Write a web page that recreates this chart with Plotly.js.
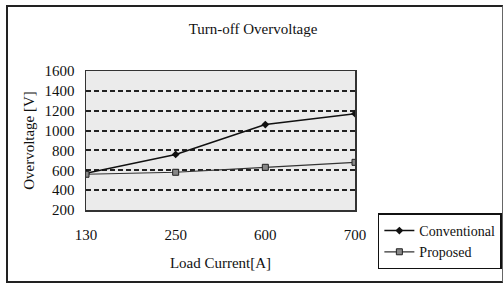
<!DOCTYPE html>
<html><head><meta charset="utf-8">
<script src="https://cdn.plot.ly/plotly-3.0.1.min.js"></script>
<style>
html,body{margin:0;padding:0;background:#fff;}
#frame{position:absolute;left:6px;top:5px;width:497px;height:278px;border:2px solid #222;border-right:1px solid #666;box-sizing:border-box;}
#chart{position:absolute;left:0;top:0;width:503px;height:288px;}
</style></head>
<body>
<div id="chart"></div>
<div id="frame"></div>
<script>
const categories = ["130", "250", "600", "700"];
const conventional = [570, 760, 1060, 1170];
const proposed = [560, 580, 630, 680];
const yTicks = [200, 400, 600, 800, 1000, 1200, 1400, 1600];

const serif = "Liberation Serif, Times New Roman, serif";
const traces = [
  {x: categories, y: conventional, name: "Conventional", type: "scatter", mode: "lines+markers",
   line: {color: "#111", width: 1.5}, marker: {symbol: "diamond", size: 6, color: "#111"}},
  {x: categories, y: proposed, name: "Proposed", type: "scatter", mode: "lines+markers",
   line: {color: "#333", width: 1.2}, marker: {symbol: "square", size: 6, color: "#888", line: {color: "#222", width: 1}}}
];
const layout = {
  width: 503, height: 288,
  margin: {l: 86, r: 148, t: 71, b: 78, autoexpand: false},
  paper_bgcolor: "rgba(0,0,0,0)", plot_bgcolor: "#ebebeb",
  font: {family: serif, size: 15, color: "#111"},
  title: {text: "Turn-off Overvoltage", font: {family: serif, size: 15, color: "#111"}, x: 0.503, xanchor: "center", y: 0.9, yanchor: "middle"},
  xaxis: {type: "category", range: [0, 3], showgrid: false, zeroline: false,
    showline: true, mirror: true, linecolor: "#333", linewidth: 1.5,
    ticks: "outside", ticklen: 10, tickcolor: "rgba(0,0,0,0)",
    tickfont: {family: serif, size: 15},
    title: {text: "Load Current[A]", font: {family: serif, size: 15}, standoff: 16}},
  yaxis: {range: [200, 1600], tickvals: yTicks, ticktext: yTicks.map(String),
    showgrid: true, gridcolor: "#222", gridwidth: 2, griddash: "5px,3px", zeroline: false,
    showline: true, mirror: true, linecolor: "#333", linewidth: 1.5,
    ticks: "outside", ticklen: 7, tickcolor: "rgba(0,0,0,0)", tickfont: {family: serif, size: 15},
    title: {text: "Overvoltage [V]", font: {family: serif, size: 15}, standoff: 6}},
  showlegend: true,
  legend: {x: 1.085, xanchor: "left", y: -0.025, yanchor: "top", bgcolor: "#fff",
    bordercolor: "#111", borderwidth: 1.5, font: {family: serif, size: 14}, tracegroupgap: 0,
    itemwidth: 30}
};
Plotly.newPlot("chart", traces, layout, {displayModeBar: false, staticPlot: true});
</script>
</body></html>
